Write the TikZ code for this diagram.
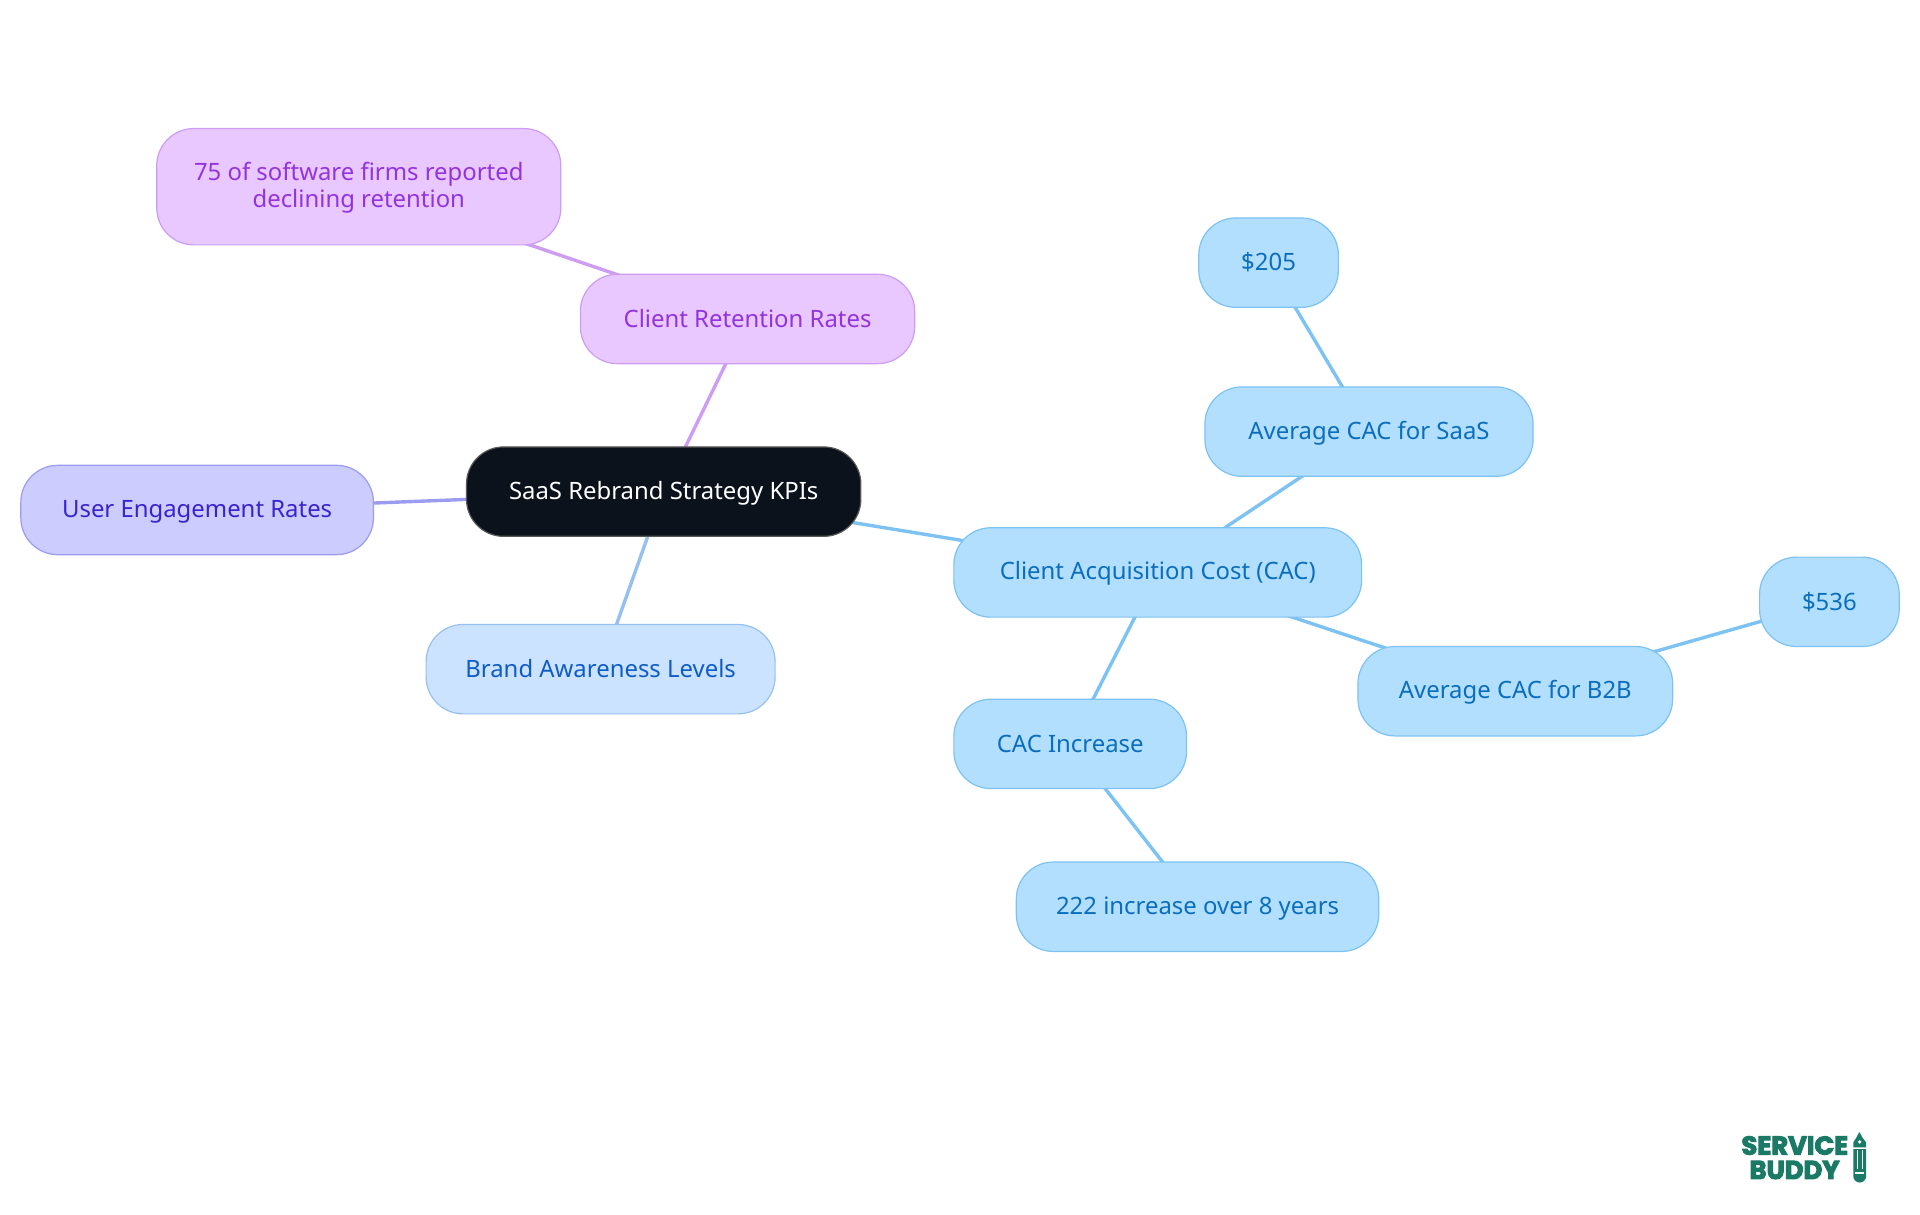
\documentclass[tikz,border=0pt]{standalone}
\usepackage{fontspec}
\setmainfont{Noto Sans}
\newfontfamily\logofont[FakeBold=4]{Poppins}
\usetikzlibrary{backgrounds}
\definecolor{bF}{HTML}{B3DFFF}\definecolor{bS}{HTML}{7CC2F2}\definecolor{bT}{HTML}{0A6EBD}
\definecolor{pF}{HTML}{E8C8FF}\definecolor{pS}{HTML}{CC9DF2}\definecolor{pT}{HTML}{9333DE}
\definecolor{iF}{HTML}{CCCCFF}\definecolor{iS}{HTML}{9B9BF0}\definecolor{iT}{HTML}{3A22CC}
\definecolor{lF}{HTML}{CCE3FF}\definecolor{lS}{HTML}{96C0F2}\definecolor{lT}{HTML}{0F5CC4}
\definecolor{rF}{HTML}{0B121B}\definecolor{logoG}{HTML}{1B7A66}
\tikzset{
  mmnode/.style={rectangle,rounded corners=37pt,inner sep=0pt,line width=1.2pt,align=center,
    font=\fontsize{23.9}{26.4}\selectfont},
  blue node/.style={mmnode,fill=bF,draw=bS,text=bT},
  purple node/.style={mmnode,fill=pF,draw=pS,text=pT},
  indigo node/.style={mmnode,fill=iF,draw=iS,text=iT},
  light node/.style={mmnode,fill=lF,draw=lS,text=lT},
  root node/.style={mmnode,fill=rF,draw=black!65,text=white},
  blue link/.style={draw=bS,line width=3.4pt},
  purple link/.style={draw=pS,line width=3.4pt},
  indigo link/.style={draw=iS,line width=3.4pt},
  light link/.style={draw=lS,line width=3.4pt},
  logo text/.style={text=logoG,inner sep=0pt,font=\logofont\bfseries\fontsize{25.8}{25.8}\selectfont}
}
\newcommand\mmstrut{\vrule width 0pt height 20.5pt depth 4pt\relax}
% name, style, left, top, right, bottom, text (in units of the reference at 1568 wide)
\newcommand\mmbox[7]{%
  \pgfmathsetmacro\mmw{(#5-#3)*1.2245}%
  \pgfmathsetmacro\mmh{(#6-#4)*1.2245}%
  \node[#2,minimum width=\mmw pt,minimum height=\mmh pt] (#1) at ({(#3+#5)/2},{(#4+#6)/2}) {#7};}
\begin{document}
\begin{tikzpicture}[x=1.2245pt,y=-1.2245pt]
\useasboundingbox (0,0) rectangle (1568,992.2);
\mmbox{firms}{purple node}{128}{105}{458}{200}{\mmstrut 75 of software firms reported\\\mmstrut declining retention}
\mmbox{retention}{purple node}{474}{224}{747}{297}{\mmstrut Client Retention Rates}
\mmbox{root}{root node}{381}{365}{703}{438}{\mmstrut SaaS Rebrand Strategy KPIs}
\mmbox{user}{indigo node}{17}{380}{305}{453}{\mmstrut User Engagement Rates}
\mmbox{brand}{light node}{348}{510}{633}{583}{\mmstrut Brand Awareness Levels}
\mmbox{cac}{blue node}{779}{431}{1112}{504}{\mmstrut Client Acquisition Cost (CAC)}
\mmbox{saas}{blue node}{984}{316}{1252}{389}{\mmstrut Average CAC for SaaS}
\mmbox{v205}{blue node}{979}{178}{1093}{251}{\mmstrut \$205}
\mmbox{b2b}{blue node}{1109}{528}{1366}{601}{\mmstrut Average CAC for B2B}
\mmbox{v536}{blue node}{1437}{455}{1551}{528}{\mmstrut \$536}
\mmbox{inc}{blue node}{779}{571}{969}{644}{\mmstrut CAC Increase}
\mmbox{yrs}{blue node}{830}{704}{1126}{777}{\mmstrut 222 increase over 8 years}
\begin{pgfonlayer}{background}
\draw[purple link] (firms.center) -- (retention.center);
\draw[purple link] (retention.center) -- (root.center);
\draw[indigo link] (user.center) -- (root.center);
\draw[light link] (brand.center) -- (root.center);
\draw[blue link] (root.center) -- (cac.center);
\draw[blue link] (cac.center) -- (saas.center);
\draw[blue link] (saas.center) -- (v205.center);
\draw[blue link] (cac.center) -- (b2b.center);
\draw[blue link] (b2b.center) -- (v536.center);
\draw[blue link] (cac.center) -- (inc.center);
\draw[blue link] (inc.center) -- (yrs.center);
\end{pgfonlayer}
% logo
\node[logo text,anchor=east] (logoa) at (1509.5,935.5) {SERVICE};
\node[logo text,anchor=east] (logob) at (1502.5,955.5) {BUDDY};
\fill[logoG] (1518.5,924.5) -- (1521,929) -- (1524,933) -- (1524,937) -- (1513.5,937) -- (1513.5,933) -- (1516,929) -- cycle;
\fill[white] (1518.7,932.6) circle (1.5);
\fill[logoG] (1513.5,938.5) -- (1524,938.5) -- (1524,960.5) arc[start angle=0,end angle=180,x radius=5.25,y radius=5.25] -- cycle;
\fill[white] (1516.3,939) rectangle (1517.3,955);
\fill[white] (1520.3,939) rectangle (1521.3,955);
\fill[white] (1515,957.2) rectangle (1522.5,958.4);
\end{tikzpicture}
\end{document}
